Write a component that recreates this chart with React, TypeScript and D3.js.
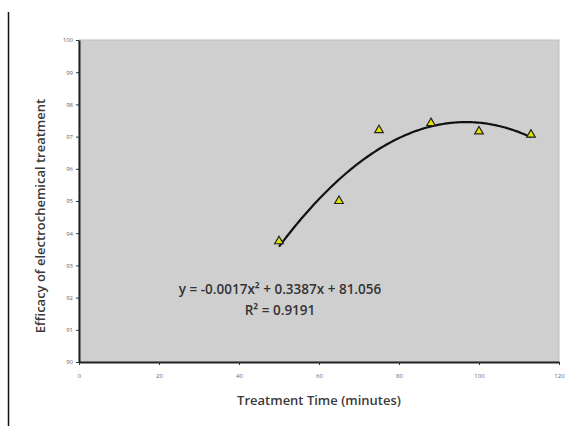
import {useEffect, useRef} from "react";
import * as d3 from "d3";

const timeMinutes = [50, 65, 75, 88, 100, 113];
const efficacy = [93.75, 95.0, 97.2, 97.42, 97.16, 97.06];
const xTicks = [0, 20, 40, 60, 80, 100, 120];
const yTicks = [90, 91, 92, 93, 94, 95, 96, 97, 98, 99, 100];
const equationLines = ["y = -0.0017x² + 0.3387x + 81.056", "R² = 0.9191"];

// least-squares quadratic through the points (the trend line)
function fitQuadratic(xs: number[], ys: number[]) {
  const s = (f: (x: number, y: number) => number) =>
    d3.sum(xs, (x, i) => f(x, ys[i]));
  const n = xs.length;
  const sx = s(x => x), sx2 = s(x => x * x), sx3 = s(x => x ** 3), sx4 = s(x => x ** 4);
  const sy = s((x, y) => y), sxy = s((x, y) => x * y), sx2y = s((x, y) => x * x * y);
  const A = [[n, sx, sx2, sy], [sx, sx2, sx3, sxy], [sx2, sx3, sx4, sx2y]];
  for (let i = 0; i < 3; i++) {
    for (let j = i + 1; j < 3; j++) {
      const f = A[j][i] / A[i][i];
      for (let k = i; k < 4; k++) A[j][k] -= f * A[i][k];
    }
  }
  const c = [0, 0, 0];
  for (let i = 2; i >= 0; i--) {
    let v = A[i][3];
    for (let k = i + 1; k < 3; k++) v -= A[i][k] * c[k];
    c[i] = v / A[i][i];
  }
  return (x: number) => c[0] + c[1] * x + c[2] * x * x;
}

export default function App() {
  const svgRef = useRef<SVGSVGElement | null>(null);

  useEffect(() => {
    const width = 587, height = 432;
    const margin = {top: 40, right: 28, bottom: 70, left: 79};
    const svg = d3.select(svgRef.current);
    svg.selectAll("*").remove();

    const x = d3.scaleLinear().domain([0, 120]).range([margin.left, width - margin.right]);
    const y = d3.scaleLinear().domain([90, 100]).range([height - margin.bottom, margin.top]);

    svg.append("rect").attr("width", width).attr("height", height).attr("fill", "#fff");

    // left frame line
    svg.append("line")
      .attr("x1", 8.5).attr("x2", 8.5).attr("y1", 12).attr("y2", 426)
      .attr("stroke", "#111").attr("stroke-width", 1.5);

    svg.append("rect")
      .attr("x", x(0)).attr("y", y(100))
      .attr("width", x(120) - x(0)).attr("height", y(90) - y(100))
      .attr("fill", "#cfcfcf")
      .attr("stroke", "#bdbdbd").attr("stroke-width", 1);

    const tickFont = "'Open Sans', sans-serif";

    const xAxis = svg.append("g")
      .attr("transform", `translate(0,${y(90)})`)
      .call(d3.axisBottom(x).tickValues(xTicks).tickSize(3).tickSizeOuter(0));
    xAxis.select(".domain").attr("stroke", "#222").attr("stroke-width", 2);
    xAxis.selectAll(".tick line").attr("stroke", "#333");
    xAxis.selectAll(".tick text")
      .attr("y", 12).attr("fill", "#666").attr("font-size", 6).attr("font-family", tickFont);

    const yAxis = svg.append("g")
      .attr("transform", `translate(${x(0)},0)`)
      .call(d3.axisLeft(y).tickValues(yTicks).tickSize(3).tickSizeOuter(0));
    yAxis.select(".domain").attr("stroke", "#222").attr("stroke-width", 2);
    yAxis.selectAll(".tick line").attr("stroke", "#333");
    yAxis.selectAll(".tick text")
      .attr("x", -6).attr("fill", "#666").attr("font-size", 6).attr("font-family", tickFont);

    // trend line
    const trend = fitQuadratic(timeMinutes, efficacy);
    const xs = d3.range(timeMinutes[0], timeMinutes[timeMinutes.length - 1] + 0.01, 0.5);
    svg.append("path")
      .datum(xs)
      .attr("d", d3.line<number>().x(d => x(d)).y(d => y(trend(d))).curve(d3.curveMonotoneX))
      .attr("fill", "none").attr("stroke", "#111").attr("stroke-width", 2.2);

    const tri = d3.symbol().type(d3.symbolTriangle).size(32);
    svg.selectAll(".pt")
      .data(timeMinutes)
      .enter().append("path")
      .attr("class", "pt")
      .attr("d", tri)
      .attr("transform", (d, i) => `translate(${x(d)},${y(efficacy[i])})`)
      .attr("fill", "#e6e000")
      .attr("stroke", "#222").attr("stroke-width", 1.2);

    const labelFont = "'Open Sans', sans-serif";

    svg.selectAll(".eq")
      .data(equationLines)
      .enter().append("text")
      .attr("class", "eq")
      .attr("x", 280).attr("y", (d, i) => 294 + i * 21)
      .attr("text-anchor", "middle")
      .attr("font-family", labelFont).attr("font-size", 13.5).attr("font-weight", 600)
      .attr("fill", "#333")
      .text(d => d);

    svg.append("text")
      .attr("x", 319).attr("y", 405)
      .attr("text-anchor", "middle")
      .attr("font-family", labelFont).attr("font-size", 13).attr("font-weight", 600)
      .attr("fill", "#3a3a3a")
      .text("Treatment Time (minutes)");

    svg.append("text")
      .attr("transform", `translate(45,216) rotate(-90)`)
      .attr("text-anchor", "middle")
      .attr("font-family", labelFont).attr("font-size", 13).attr("font-weight", 600)
      .attr("fill", "#3a3a3a")
      .text("Efficacy of electrochemical treatment");
  }, []);

  return <svg ref={svgRef} width={587} height={432} style={{position: "absolute", left: 0, top: 0}} />;
}
